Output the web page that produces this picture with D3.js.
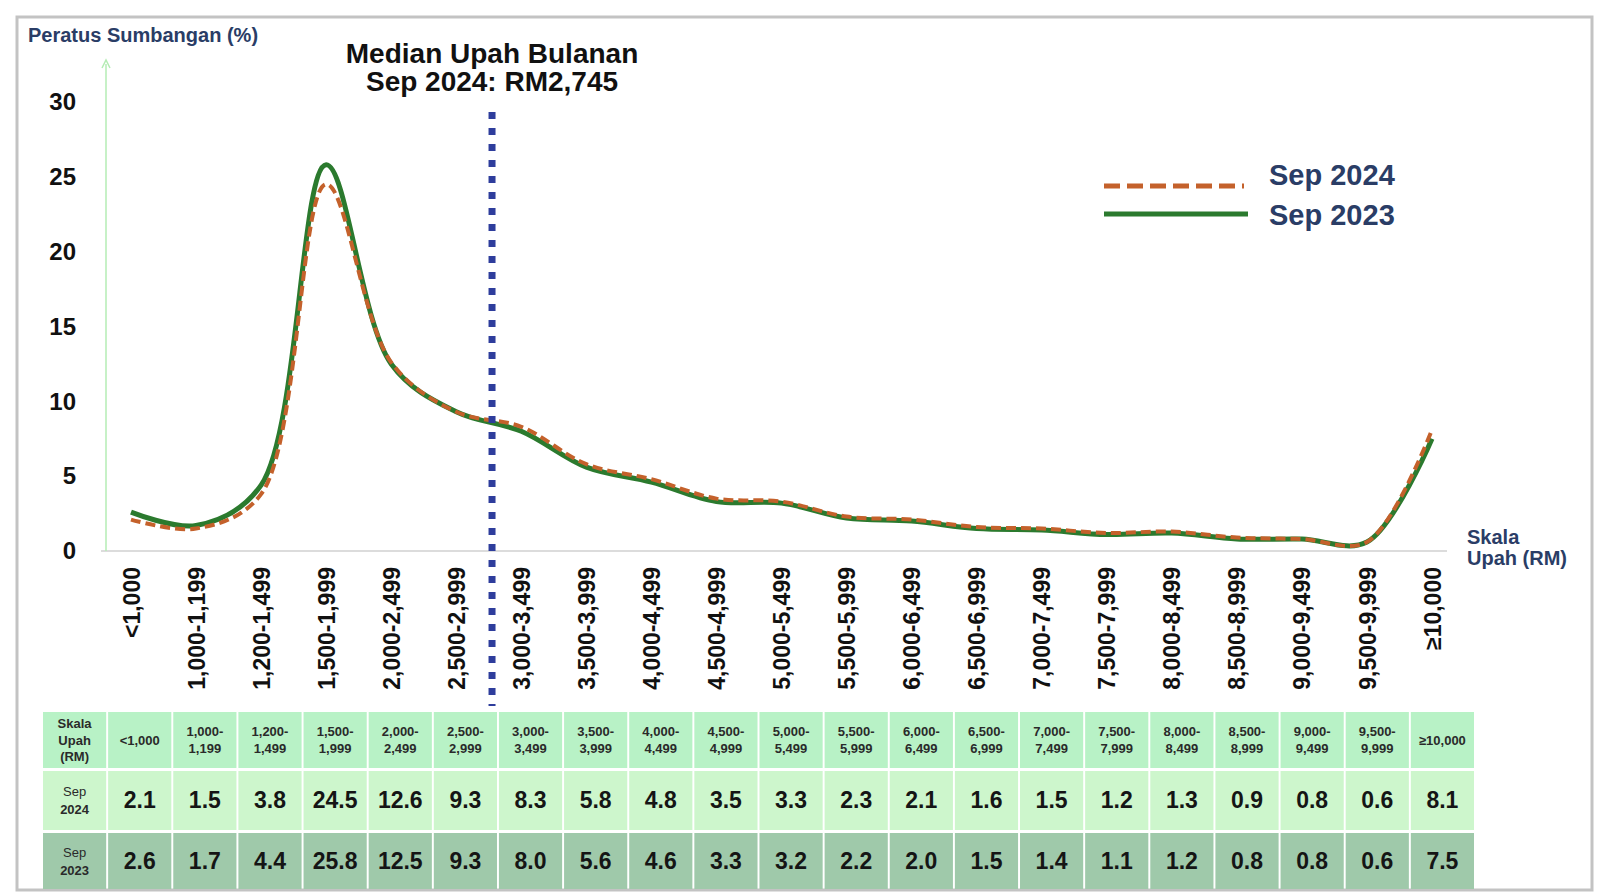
<!DOCTYPE html>
<html><head><meta charset="utf-8">
<script src="https://cdn.jsdelivr.net/npm/d3@7"></script>
<style>
html,body{margin:0;padding:0;background:#fff;}
svg{display:block;font-family:"Liberation Sans",Arial,Helvetica,sans-serif;}
</style></head>
<body>
<svg id="chart" width="1616" height="894"></svg>
<script>
const categories = ["<1,000","1,000-1,199","1,200-1,499","1,500-1,999","2,000-2,499","2,500-2,999","3,000-3,499","3,500-3,999","4,000-4,499","4,500-4,999","5,000-5,499","5,500-5,999","6,000-6,499","6,500-6,999","7,000-7,499","7,500-7,999","8,000-8,499","8,500-8,999","9,000-9,499","9,500-9,999","≥10,000"];
const tableHeads = ["<1,000","1,000-|1,199","1,200-|1,499","1,500-|1,999","2,000-|2,499","2,500-|2,999","3,000-|3,499","3,500-|3,999","4,000-|4,499","4,500-|4,999","5,000-|5,499","5,500-|5,999","6,000-|6,499","6,500-|6,999","7,000-|7,499","7,500-|7,999","8,000-|8,499","8,500-|8,999","9,000-|9,499","9,500-|9,999","≥10,000"];
const sep2024 = [2.1,1.5,3.8,24.5,12.6,9.3,8.3,5.8,4.8,3.5,3.3,2.3,2.1,1.6,1.5,1.2,1.3,0.9,0.8,0.6,8.1];
const sep2023 = [2.6,1.7,4.4,25.8,12.5,9.3,8.0,5.6,4.6,3.3,3.2,2.2,2.0,1.5,1.4,1.1,1.2,0.8,0.8,0.6,7.5];
const yTicks = [0,5,10,15,20,25,30];
const seriesNames = ["Sep 2024","Sep 2023"];
const medianPosition = 5.55; // between 2,500-2,999 and 3,000-3,499
const medianTitle = ["Median Upah Bulanan","Sep 2024: RM2,745"];

const svg = d3.select("#chart");
const C24 = "#c4612b", C23 = "#2b7a2e", NAVY = "#2a3d66";
const FF = "'Liberation Sans',Arial,sans-serif";

// frame
svg.append("rect").attr("x",17).attr("y",17).attr("width",1575).attr("height",873)
  .attr("fill","none").attr("stroke","#c3c3c3").attr("stroke-width",3);

const x = d3.scalePoint().domain(categories).range([131,1432]);
const xi = d3.scaleLinear().domain([0,categories.length-1]).range([131,1432]);
const y = d3.scaleLinear().domain([0,30]).range([551,102]);

// baseline
svg.append("line").attr("x1",101).attr("x2",1447).attr("y1",y(0)).attr("y2",y(0))
  .attr("stroke","#dcdcdc").attr("stroke-width",2);
// y axis arrow
svg.append("line").attr("x1",106).attr("x2",106).attr("y1",y(0)).attr("y2",64)
  .attr("stroke","#b4ecb4").attr("stroke-width",1.5);
svg.append("path").attr("d","M102,68 L106,60 L110,68").attr("fill","none").attr("stroke","#b4ecb4").attr("stroke-width",1.5);

// y tick labels
const yAxis = d3.axisLeft(y).tickValues(yTicks).tickSize(0).tickPadding(0);
const ya = svg.append("g").attr("transform","translate(76,0)").call(yAxis);
ya.select(".domain").remove();
ya.selectAll("text").attr("font-size",24).attr("font-weight","bold").attr("fill","#111")
  .attr("font-family",FF);

// x labels rotated
const xAxis = d3.axisBottom(x).tickSize(0).tickPadding(0);
const xa = svg.append("g").attr("transform",`translate(0,${y(0)})`).call(xAxis);
xa.select(".domain").remove();
xa.selectAll("text")
  .attr("font-size",23).attr("font-weight","bold").attr("fill","#111")
  .attr("font-family",FF)
  .attr("text-anchor","end").attr("dy","0.35em")
  .attr("transform","translate(0,16) rotate(-90)").attr("y",0).attr("x",0);

// lines
const line = d3.line().x((d,i)=>xi(i)).y(d=>y(d)).curve(d3.curveCatmullRom.alpha(0.5));
svg.append("path").datum(sep2023).attr("d",line).attr("fill","none")
  .attr("stroke",C23).attr("stroke-width",5).attr("stroke-linejoin","round");
svg.append("path").datum(sep2024).attr("d",line).attr("fill","none")
  .attr("stroke",C24).attr("stroke-width",4).attr("stroke-dasharray","10,5");

// median line
svg.append("line").attr("x1",xi(medianPosition)).attr("x2",xi(medianPosition))
  .attr("y1",112).attr("y2",706).attr("stroke","#2e3d9c").attr("stroke-width",7)
  .attr("stroke-dasharray","7,9");
svg.append("text").attr("x",xi(medianPosition)).attr("y",63).attr("text-anchor","middle")
  .attr("font-size",28).attr("font-weight","bold").attr("fill","#111").text(medianTitle[0]);
svg.append("text").attr("x",xi(medianPosition)).attr("y",91).attr("text-anchor","middle")
  .attr("font-size",28).attr("font-weight","bold").attr("fill","#111").text(medianTitle[1]);

// axis titles
svg.append("text").attr("x",28).attr("y",42).attr("font-size",20).attr("font-weight","bold")
  .attr("fill",NAVY).text("Peratus Sumbangan (%)");
svg.append("text").attr("x",1467).attr("y",544).attr("font-size",20).attr("font-weight","bold")
  .attr("fill",NAVY).text("Skala");
svg.append("text").attr("x",1467).attr("y",565).attr("font-size",20).attr("font-weight","bold")
  .attr("fill",NAVY).text("Upah (RM)");

// legend
const lg = svg.append("g");
lg.append("line").attr("x1",1104).attr("x2",1244).attr("y1",186).attr("y2",186)
  .attr("stroke",C24).attr("stroke-width",5).attr("stroke-dasharray","16,7");
lg.append("line").attr("x1",1104).attr("x2",1248).attr("y1",214).attr("y2",214)
  .attr("stroke",C23).attr("stroke-width",5);
lg.append("text").attr("x",1269).attr("y",185).attr("font-size",29).attr("font-weight","bold")
  .attr("fill",NAVY).text(seriesNames[0]);
lg.append("text").attr("x",1269).attr("y",225).attr("font-size",29).attr("font-weight","bold")
  .attr("fill",NAVY).text(seriesNames[1]);

// table
const cols = ["__hdr"].concat(categories);
const tx = d3.scaleBand().domain(cols).range([43,1474]).paddingInner(0.03);
const rows = [
  {y:712,h:56,fill:"#b8f2c6"},
  {y:771,h:59,fill:"#cdf6cc"},
  {y:833,h:56,fill:"#9fc9aa"}
];
rows.forEach((r,ri)=>{
  cols.forEach((c,ci)=>{
    svg.append("rect").attr("x",tx(c)).attr("y",r.y).attr("width",tx.bandwidth()).attr("height",r.h).attr("fill",r.fill);
  });
});
function multi(xc,yc,lines,size,weights,lh){
  const t = svg.append("text").attr("text-anchor","middle").attr("font-size",size).attr("fill","#2a2a2a");
  const n = lines.length;
  lines.forEach((l,k)=>{
    t.append("tspan").attr("x",xc).attr("y",yc+(k-(n-1)/2)*lh).attr("dy","0.35em")
      .attr("font-weight",weights[k]).text(l);
  });
}
multi(tx("__hdr")+tx.bandwidth()/2,740,["Skala","Upah","(RM)"],13,["bold","bold","bold"],16.5);
categories.forEach((c,i)=>{
  const parts = tableHeads[i].split("|");
  multi(tx(c)+tx.bandwidth()/2,740,parts,13,parts.map(()=>"bold"),17);
});
multi(tx("__hdr")+tx.bandwidth()/2,800,["Sep","2024"],13,["normal","bold"],18);
multi(tx("__hdr")+tx.bandwidth()/2,861,["Sep","2023"],13,["normal","bold"],18);
const vals = [sep2024, sep2023];
const rowMid = [800,861];
vals.forEach((arr,ri)=>{
  svg.append("g").selectAll("text").data(arr).join("text")
    .attr("x",(d,i)=>tx(categories[i])+tx.bandwidth()/2).attr("y",rowMid[ri]).attr("dy","0.35em")
    .attr("text-anchor","middle").attr("font-size",23).attr("font-weight","bold").attr("fill","#151515")
    .text(d=>d.toFixed(1));
});
</script>
</body></html>
